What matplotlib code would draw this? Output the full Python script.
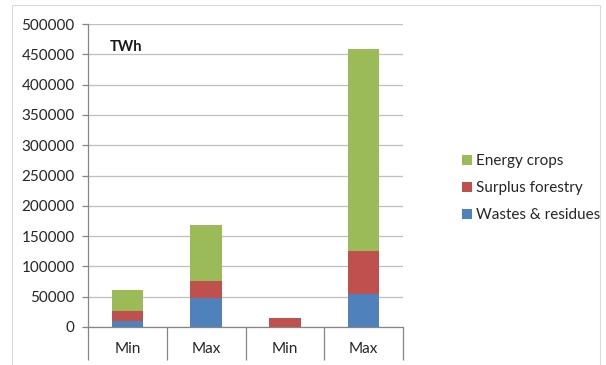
import numpy as np
import matplotlib.pyplot as plt
from matplotlib.patches import Rectangle

categories = ['Min', 'Max', 'Min', 'Max']
wastes = [10000, 48000, 0, 55000]
forestry = [17000, 28000, 15000, 70000]
crops = [34000, 91500, 0, 334000]
series_names = ['Wastes & residues', 'Surplus forestry', 'Energy crops']
yticks = np.arange(0, 500001, 50000)

plt.rcParams['font.family'] = ['Lato', 'DejaVu Sans']
txt = '#262626'
axc = '#868686'

fig = plt.figure(figsize=(6.06, 3.65), dpi=100)
fig.patches.append(Rectangle((12/606, -0.1), 588/606, 1 - 5/365 + 0.1, transform=fig.transFigure,
                             fill=False, edgecolor='#d9d9d9', linewidth=0.8))
ax = fig.add_axes([88/606, 1 - 327/365, 315/606, 303/365])

x = np.arange(len(categories))
w = 0.4
ax.bar(x, wastes, w, color='#4F81BD', label=series_names[0], zorder=3)
ax.bar(x, forestry, w, bottom=wastes, color='#C0504D', label=series_names[1], zorder=3)
bottom2 = np.array(wastes) + np.array(forestry)
ax.bar(x, crops, w, bottom=bottom2, color='#9BBB59', label=series_names[2], zorder=3)

ax.set_xlim(-0.5, 3.5)
ax.set_ylim(0, 500000)
ax.set_yticks(yticks)
ax.set_yticklabels([str(v) for v in yticks], fontsize=11, color=txt)
ax.yaxis.grid(True, color='#bfbfbf', linewidth=0.9, zorder=0)
ax.set_axisbelow(True)

ax.set_xticks(x)
ax.set_xticklabels(categories, fontsize=11, color=txt)
ax.set_xticks(np.arange(-0.5, 4, 1), minor=True)
ax.tick_params(axis='x', which='major', length=0, pad=11)
ax.tick_params(axis='x', which='minor', length=24, color=axc, width=0.9)
ax.tick_params(axis='y', length=4.5, color=axc, width=0.9, pad=5)

for s in ['top', 'right']:
    ax.spines[s].set_visible(False)
for s in ['left', 'bottom']:
    ax.spines[s].set_color(axc)
    ax.spines[s].set_linewidth(0.9)

ax.text(0.07, 0.925, 'TWh', transform=ax.transAxes, fontsize=10.5, fontweight='bold',
        color='#1a1a1a', va='center')

h, l = ax.get_legend_handles_labels()
fig.legend(h[::-1], l[::-1], loc='center left', bbox_to_anchor=(448/606, 1 - 188/365),
           frameon=False, fontsize=11, handlelength=0.65, handleheight=0.65,
           handletextpad=0.3, labelspacing=0.85, labelcolor=txt)

fig.savefig('out.png', dpi=100)
